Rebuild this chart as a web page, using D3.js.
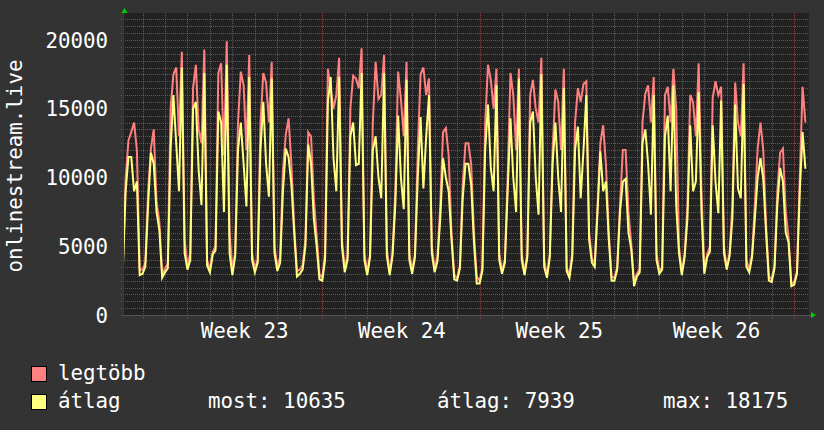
<!DOCTYPE html>
<html>
<head>
<meta charset="utf-8">
<script src="https://cdn.jsdelivr.net/npm/d3@7"></script>
<style>
  body { margin: 0; background: #333333; }
  text { font-family: "DejaVu Sans Mono", monospace; fill: #ffffff; }
</style>
</head>
<body>
<div id="chart"></div>
<script>
(function () {
    'use strict';

    // values every 3 hours, starting Saturday 00:00 before week 23
    var maxVals = [
        3500, 3500, 10000, 12700, 13300, 14000, 12000, 3300,   // Sat
        3300, 3800, 9000, 12100, 13500, 8200, 6800, 2900,      // Sun
        3400, 3700, 15000, 17500, 18000, 13000, 19150, 5500,   // Mon w23
        3500, 4500, 16500, 18200, 13500, 12500, 19300, 4000,
        3300, 4600, 5000, 17600, 18300, 11600, 19900, 6000,
        3300, 4500, 14000, 17700, 16700, 12000, 18900, 4500,
        3400, 4000, 14000, 17600, 16900, 14000, 18400, 5000,
        3500, 4200, 10500, 13100, 14300, 11000, 6500, 3200,
        3300, 3600, 5500, 13300, 13000, 8500, 5800, 3000,
        2700, 4500, 17900, 16500, 15000, 16000, 18700, 5500,   // Mon w24
        3400, 4300, 15000, 17400, 17200, 16500, 19400, 4500,
        3100, 4400, 14000, 18400, 15700, 16000, 18900, 4800,
        3100, 4500, 9000, 17700, 15700, 13000, 18400, 4500,
        3300, 4400, 12000, 17500, 18000, 16000, 17200, 5000,
        3400, 4200, 8000, 13300, 13600, 11600, 6000, 2900,
        2700, 3600, 9500, 12500, 12500, 11000, 6000, 2800,
        2500, 3400, 14000, 18200, 17100, 15000, 17900, 4500,   // Mon w25
        3200, 4000, 10000, 17600, 16000, 12000, 17900, 4500,
        3100, 4400, 16000, 17100, 15000, 14000, 18700, 4000,
        2900, 4400, 12000, 16400, 15500, 12000, 17900, 3500,
        2900, 4500, 14000, 16500, 15500, 16800, 17000, 6000,
        4100, 3800, 8000, 12500, 13800, 10900, 6000, 2800,
        2700, 3500, 8000, 12000, 12000, 7500, 5200, 2400,
        3000, 3300, 14000, 16100, 16700, 14000, 17300, 4500,   // Mon w26
        3200, 3500, 16000, 16600, 14000, 17900, 15000, 5000,
        3100, 4400, 8000, 16000, 15500, 13000, 18300, 9000,
        3200, 4400, 5000, 15800, 17000, 16000, 16600, 5000,
        3500, 4500, 8000, 16900, 14000, 13000, 18300, 4000,
        3300, 4400, 8000, 12100, 14000, 12000, 6500, 2800,
        2600, 3600, 9000, 11800, 12100, 7500, 5600, 2300,
        2400, 3200, 10000, 16600, 14000                        // Mon w27
    ];
    var avgVals = [
        3200, 3300, 9000, 11500, 11500, 9000, 9700, 2900,
        3000, 3500, 8000, 11800, 11000, 7500, 6200, 2700,
        3100, 3400, 12000, 16000, 12500, 9000, 18000, 4500,
        3300, 4000, 15000, 15500, 10500, 8000, 17600, 3600,
        3100, 4400, 4700, 14800, 14000, 7500, 18200, 4500,
        2900, 4300, 12000, 14000, 11000, 7900, 17300, 4000,
        3100, 3800, 12000, 15500, 11000, 8600, 17200, 4500,
        3200, 3800, 9000, 12100, 11500, 9500, 6000, 2800,
        3000, 3300, 5000, 12400, 11000, 7000, 5000, 2600,
        2500, 4000, 15500, 17300, 11400, 9000, 17300, 5000,
        3100, 4000, 13000, 14000, 10900, 11000, 17600, 4000,
        2900, 4200, 12000, 13000, 10000, 8500, 17600, 4300,
        2900, 4300, 8000, 14500, 10000, 7700, 17100, 4000,
        3000, 4200, 10000, 14400, 9200, 13000, 16000, 4500,
        3100, 3900, 7000, 11400, 10000, 9000, 5500, 2600,
        2500, 3400, 8500, 11000, 11000, 9500, 5300, 2300,
        2300, 3200, 12000, 15300, 10700, 9000, 16700, 4000,
        3000, 3800, 9000, 14300, 10000, 7500, 17200, 4000,
        2900, 4200, 14000, 14800, 10000, 7300, 17500, 3500,
        2700, 4200, 11000, 14000, 10000, 7500, 16500, 3200,
        2700, 4200, 12000, 13700, 8500, 12000, 16000, 5500,
        3800, 3500, 7500, 11900, 9000, 9700, 5500, 2500,
        2500, 3300, 7500, 9700, 9900, 6000, 4800, 2100,
        2800, 3100, 12500, 13500, 11000, 7300, 16000, 4000,
        3000, 3300, 13000, 14500, 9000, 16700, 8000, 4500,
        2900, 4200, 7000, 13800, 9000, 9700, 16200, 7500,
        3000, 4200, 4600, 13800, 9700, 7400, 15600, 4500,
        3300, 4300, 7000, 15300, 9200, 8500, 16800, 3500,
        3100, 4200, 7000, 10000, 11400, 9900, 6000, 2500,
        2400, 3400, 8000, 10700, 9700, 6000, 5300, 2100,
        2200, 3000, 9000, 13300, 10635
    ];
    var yTicks = [0, 5000, 10000, 15000, 20000];
    var weekLabels = ['Week 23', 'Week 24', 'Week 25', 'Week 26'];
    var yTitle = 'onlinestream.live';
    var seriesNames = ['legtöbb', 'átlag'];
    var seriesColors = ['#ff8080', '#ffff80'];
    var stats = ['most: 10635', 'átlag: 7939', 'max: 18175'];

    var width = 824, height = 430;
    var left = 124, right = 809, top = 13, bottom = 315;
    var hour = 3600 * 1000;
    var start = Date.UTC(2022, 5, 4, 0, 0); // Saturday before week 23

    var x = d3.scaleUtc()
        .domain([new Date(start + 4.24 * hour), new Date(start + 30.66 * 24 * hour)])
        .range([left, right]);
    var y = d3.scaleLinear().domain([0, 20000]).range([bottom, 40]);

    var svg = d3.select('#chart').append('svg')
        .attr('width', width)
        .attr('height', height);

    svg.append('rect').attr('width', width).attr('height', height).attr('fill', '#333333');
    svg.append('rect')
        .attr('x', left).attr('y', top)
        .attr('width', right - left).attr('height', bottom - top)
        .attr('fill', '#222222');

    svg.append('clipPath').attr('id', 'clip')
        .append('rect')
        .attr('x', left).attr('y', top)
        .attr('width', right - left).attr('height', bottom - top);

    var minorCol = 'rgba(140,140,140,0.55)';
    var majorCol = 'rgba(190,70,70,0.75)';

    // horizontal grid
    var yTop = y.invert(top);
    var hLines = d3.range(500, yTop, 500);
    var grid = svg.append('g').attr('stroke-dasharray', '1,1').attr('stroke-width', 1);
    grid.selectAll('line.h').data(hLines).enter().append('line')
        .attr('x1', left - 3).attr('x2', right)
        .attr('y1', function (d) { return Math.round(y(d)) + 0.5; })
        .attr('y2', function (d) { return Math.round(y(d)) + 0.5; })
        .attr('stroke', function (d) { return d % 5000 === 0 ? majorCol : minorCol; });

    // vertical grid: days and weeks
    var dom = x.domain();
    var days = d3.utcDay.range(dom[0], dom[1]);
    grid.selectAll('line.v').data(days).enter().append('line')
        .attr('x1', function (d) { return Math.round(x(d)) + 0.5; })
        .attr('x2', function (d) { return Math.round(x(d)) + 0.5; })
        .attr('y1', top).attr('y2', bottom + 3)
        .attr('stroke', function (d) { return d.getUTCDay() === 1 ? majorCol : minorCol; });

    // axis line
    svg.append('line')
        .attr('x1', left - 3).attr('x2', right + 2)
        .attr('y1', bottom + 0.5).attr('y2', bottom + 0.5)
        .attr('stroke', '#555555');
    svg.append('line')
        .attr('x1', left - 0.5).attr('x2', left - 0.5)
        .attr('y1', top).attr('y2', bottom + 3)
        .attr('stroke', '#3a3a3a');

    // series
    var line = function (vals) {
        return d3.line()
            .x(function (d, i) { return x(new Date(start + i * 3 * hour)); })
            .y(function (d) { return y(d); })(vals);
    };
    var lines = svg.append('g').attr('clip-path', 'url(#clip)');
    [maxVals, avgVals].forEach(function (vals, k) {
        lines.append('path')
            .attr('d', line(vals))
            .attr('fill', 'none')
            .attr('stroke', seriesColors[k])
            .attr('stroke-width', 2)
            .attr('stroke-linejoin', 'miter');
    });

    // y labels
    svg.selectAll('text.ylab').data(yTicks).enter().append('text')
        .attr('x', 108)
        .attr('y', function (d) { return y(d) + 7.5; })
        .attr('text-anchor', 'end')
        .style('font-size', '20.8px')
        .text(function (d) { return d; });

    // week labels, centred in each week
    var mondays = d3.utcMonday.range(dom[0], dom[1]);
    svg.selectAll('text.wk').data(weekLabels).enter().append('text')
        .attr('x', function (d, i) {
            return (x(mondays[i]) + x(mondays[i + 1])) / 2 + 1;
        })
        .attr('y', 338)
        .attr('text-anchor', 'middle')
        .style('font-size', '20.8px')
        .text(function (d) { return d; });

    // y title
    svg.append('text')
        .attr('transform', 'translate(22,166) rotate(-90)')
        .attr('text-anchor', 'middle')
        .style('font-size', '20.8px')
        .text(yTitle);

    // arrows
    svg.append('path').attr('d', 'M121.5,13 L127.5,13 L124.5,8 Z').attr('fill', '#00d000');
    svg.append('path').attr('d', 'M811,312 L811,318 L816,315 Z').attr('fill', '#00d000');

    // legend
    var leg = svg.append('g');
    seriesNames.forEach(function (name, k) {
        var ly = 366 + k * 28;
        leg.append('rect')
            .attr('x', 31.5).attr('y', ly + 0.5)
            .attr('width', 15).attr('height', 15)
            .attr('fill', seriesColors[k])
            .attr('stroke', '#000');
        leg.append('text')
            .attr('x', 58).attr('y', ly + 14)
            .style('font-size', '20.8px')
            .text(name);
    });
    var statX = [208, 437, 663];
    stats.forEach(function (s, i) {
        leg.append('text')
            .attr('x', statX[i]).attr('y', 408)
            .style('font-size', '20.8px')
            .text(s);
    });
}());
</script>
</body>
</html>
